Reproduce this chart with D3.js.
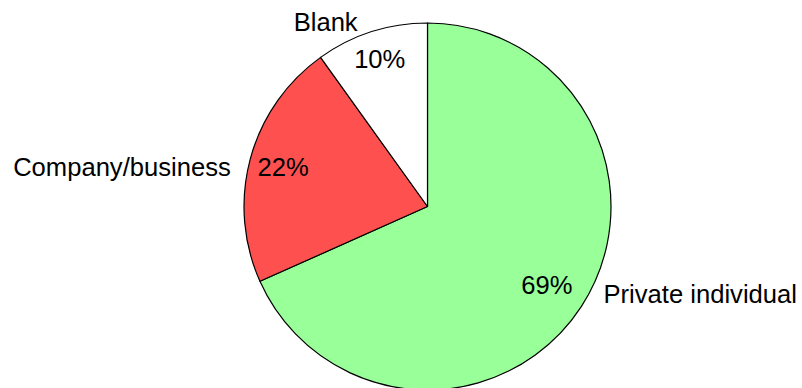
<!DOCTYPE html>
<html>
<head>
<meta charset="utf-8">
<script src="https://cdn.jsdelivr.net/npm/d3@7"></script>
<style>
  html, body { margin: 0; padding: 0; background: #fff; }
  svg { display: block; }
  text { font-family: "Liberation Sans", Arial, sans-serif; fill: #000; }
</style>
</head>
<body>
<svg id="chart" width="802" height="388"></svg>
<script>
// Who placed the listings (percent of responses)
const categories = ["Private individual", "Company/business", "Blank"];
const shares = [69, 22, 10];
const sliceColors = ["#99FF99", "#FF5050", "#FFFFFF"];

// Small per-label offsets (px) applied after radial placement
const pctNudge = [[-6, -3], [0, 0], [-2, -5]];
const nameNudge = [[6, -19], [-2, 12], [-4, 2]];

const width = 802, height = 388;
const cx = 427.5, cy = 206.5, radius = 183.5;
const fontSize = 25.6;

const svg = d3.select("#chart");
const g = svg.append("g").attr("transform", `translate(${cx},${cy})`);

const data = categories.map((c, i) => ({ category: c, value: shares[i], color: sliceColors[i], i }));

const pie = d3.pie().sort(null).value(d => d.value).startAngle(0).endAngle(2 * Math.PI);
const arcs = pie(data);

const arc = d3.arc().innerRadius(0).outerRadius(radius);

g.selectAll("path.slice")
  .data(arcs)
  .join("path")
  .attr("class", "slice")
  .attr("d", arc)
  .attr("fill", d => d.data.color)
  .attr("stroke", "#000")
  .attr("stroke-width", 1.2)
  .attr("stroke-linejoin", "round");

const mid = d => (d.startAngle + d.endAngle) / 2;

// Percentage labels inside each slice
const inner = 0.815 * radius;
g.selectAll("text.pct")
  .data(arcs)
  .join("text")
  .attr("class", "pct")
  .attr("x", d => inner * Math.sin(mid(d)) + pctNudge[d.data.i][0])
  .attr("y", d => -inner * Math.cos(mid(d)) + pctNudge[d.data.i][1])
  .attr("text-anchor", "middle")
  .attr("dominant-baseline", "central")
  .attr("font-size", fontSize)
  .text(d => d.data.value + "%");

// Category names outside the pie, anchored away from it
const outer = radius + 12;
g.selectAll("text.cat")
  .data(arcs)
  .join("text")
  .attr("class", "cat")
  .attr("x", d => {
    const s = Math.sin(mid(d));
    return outer * s + (s >= 0 ? 6 : -6) + nameNudge[d.data.i][0];
  })
  .attr("y", d => -outer * Math.cos(mid(d)) + nameNudge[d.data.i][1])
  .attr("text-anchor", d => Math.sin(mid(d)) >= 0 ? "start" : "end")
  .attr("dominant-baseline", "central")
  .attr("font-size", fontSize)
  .text(d => d.data.category);
</script>
</body>
</html>
